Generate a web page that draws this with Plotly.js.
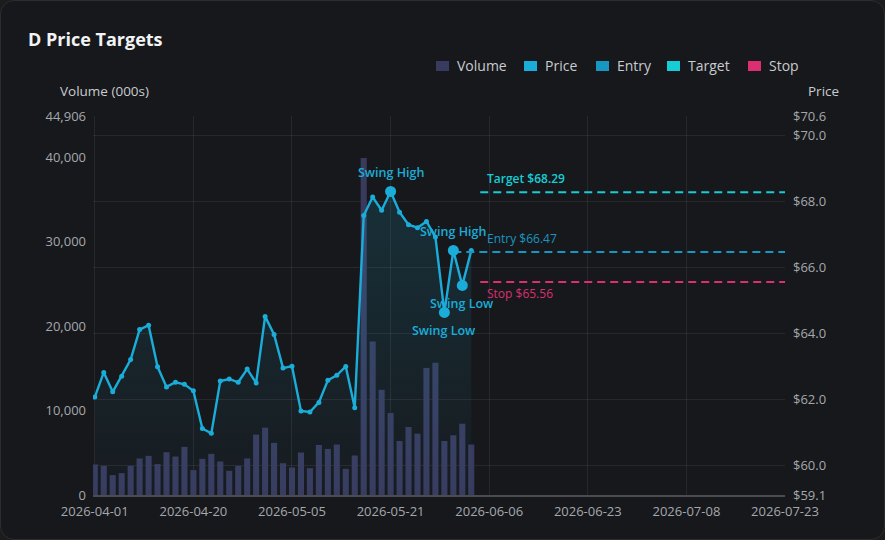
<!DOCTYPE html>
<html>
<head>
<meta charset="utf-8">
<script src="https://cdn.plot.ly/plotly-3.0.1.min.js"></script>
<style>
  html, body { margin: 0; padding: 0; background: #1c1c1d; }
  #wrap { position: relative; width: 885px; height: 540px; }
  #card { position: absolute; left: 0; top: 0; width: 883px; height: 538px; border: 1px solid #2c2d31; border-radius: 14px; background: #17181b; }
  #chart { position: absolute; left: 0; top: 0; width: 885px; height: 540px; }
</style>
</head>
<body>
<div id="wrap"><div id="card"></div><div id="chart"></div></div>
<script>
// ---------------- DATA ----------------
const dates = [
  '2026-04-01','2026-04-02','2026-04-06','2026-04-07','2026-04-08','2026-04-09','2026-04-10','2026-04-13','2026-04-14','2026-04-15',
  '2026-04-16','2026-04-20','2026-04-21','2026-04-22','2026-04-23','2026-04-24','2026-04-27','2026-04-28','2026-04-29','2026-04-30',
  '2026-05-01','2026-05-04','2026-05-05','2026-05-06','2026-05-07','2026-05-08','2026-05-11','2026-05-12','2026-05-13','2026-05-14',
  '2026-05-15','2026-05-18','2026-05-19','2026-05-21','2026-05-22','2026-05-26','2026-05-27','2026-05-28','2026-05-29','2026-06-01',
  '2026-06-02','2026-06-03','2026-06-04',
  '2026-06-05','2026-06-06','2026-06-08','2026-06-09','2026-06-11','2026-06-12','2026-06-14','2026-06-15','2026-06-17','2026-06-18',
  '2026-06-20','2026-06-21','2026-06-23','2026-06-24','2026-06-25','2026-06-27','2026-06-28','2026-06-30','2026-07-01','2026-07-02',
  '2026-07-04','2026-07-05','2026-07-07','2026-07-08','2026-07-09','2026-07-11','2026-07-12','2026-07-14','2026-07-15','2026-07-16',
  '2026-07-18','2026-07-19','2026-07-20','2026-07-22','2026-07-23'
];
const histDates = dates.slice(0, 43);

const volume = [3620,3460,2360,2590,3460,4330,4640,3660,5070,4560,
  5700,2950,4280,4870,3970,2870,3460,4330,7160,7980,
  6170,3770,3260,5030,3180,5930,5460,5980,3100,4680,
  39916,18200,12460,9710,6400,8060,7270,15060,15680,6400,
  7080,8450,5980];

const price = [62.07,62.82,62.23,62.70,63.21,64.12,64.25,62.99,62.38,62.52,
  62.46,62.26,61.12,60.97,62.56,62.62,62.52,62.92,62.50,64.52,
  63.97,62.95,63.01,61.65,61.62,61.91,62.58,62.73,63.00,61.75,
  67.58,68.14,67.74,68.31,67.68,67.30,67.21,67.40,66.93,64.64,
  66.52,65.46,66.52];

const swingHighDates = ['2026-05-21','2026-06-02'];
const swingLowDates = ['2026-06-01','2026-06-03'];

const entryPrice = 66.47, targetPrice = 68.29, stopPrice = 65.56;
const entryFrom = '2026-06-02', levelFrom = '2026-06-05', levelTo = '2026-07-23';

const xTickLabels = ['2026-04-01','2026-04-20','2026-05-05','2026-05-21','2026-06-06','2026-06-23','2026-07-08','2026-07-23'];
const volTicks = [0,10000,20000,30000,40000,44906];
const priceTicks = [59.1,60,62,64,66,68,70,70.6];
const legendNames = ['Volume','Price','Entry','Target','Stop'];

// ---------------- STYLE ----------------
const C = {
  vol: '#393b5e', price: '#1badd9', entry: '#1796c2', target: '#16cdd6', stop: '#db2f72',
  tick: '#a4a8ae', grid: 'rgba(255,255,255,0.07)', text: '#c8cbd0'
};
const FONT = 'Open Sans, Noto Sans, sans-serif';
const L = 93, R = 785, T = 116, B = 495;
const W = R - L, H = B - T;
const px = v => (v - L) / W;
const py = v => (B - v) / H;

const idx = d => dates.indexOf(d);
const priceAt = d => price[histDates.indexOf(d)];
const span = (from, to) => dates.slice(idx(from), idx(to) + 1);

const traces = [];
traces.push({
  type: 'bar', x: histDates, y: volume, yaxis: 'y', xaxis: 'x',
  marker: { color: C.vol, line: { width: 0 } }, hoverinfo: 'skip', showlegend: false
});
traces.push({
  type: 'scatter', mode: 'lines+markers', x: histDates, y: price, yaxis: 'y2',
  line: { color: C.price, width: 2.4 }, marker: { color: C.price, size: 5 },
  fill: 'tozeroy',
  fillgradient: { type: 'vertical', start: 59.1, stop: 68.5,
    colorscale: [[0, 'rgba(27,173,217,0.02)'], [1, 'rgba(27,173,217,0.16)']] },
  showlegend: false, hoverinfo: 'skip'
});
const levels = [
  { v: entryPrice, from: entryFrom, c: C.entry },
  { v: targetPrice, from: levelFrom, c: C.target },
  { v: stopPrice, from: levelFrom, c: C.stop }
];
levels.forEach(l => {
  const xs = span(l.from, levelTo);
  traces.push({
    type: 'scatter', mode: 'lines', x: xs, y: xs.map(() => l.v), yaxis: 'y2',
    line: { color: l.c, width: 2, dash: '8px,5px' }, showlegend: false, hoverinfo: 'skip'
  });
});
const swings = swingHighDates.concat(swingLowDates);
traces.push({
  type: 'scatter', mode: 'markers', x: swings, y: swings.map(priceAt), yaxis: 'y2',
  marker: { color: C.price, size: 11 }, showlegend: false, hoverinfo: 'skip'
});

const annotations = [];
swingHighDates.forEach(d => annotations.push({
  x: d, y: priceAt(d), xref: 'x', yref: 'y2', text: 'Swing High', showarrow: false,
  yshift: 19, font: { family: FONT, size: 12.5, color: C.price, weight: 600 }
}));
swingLowDates.forEach(d => annotations.push({
  x: d, y: priceAt(d), xref: 'x', yref: 'y2', text: 'Swing Low', showarrow: false,
  yshift: -18, font: { family: FONT, size: 12.5, color: C.price, weight: 600 }
}));
annotations.push({ x: levelFrom, y: targetPrice, xref: 'x', yref: 'y2', text: 'Target $' + targetPrice.toFixed(2),
  showarrow: false, xanchor: 'left', xshift: 5, yshift: 14, font: { family: FONT, size: 12, color: C.target, weight: 600 } });
annotations.push({ x: levelFrom, y: entryPrice, xref: 'x', yref: 'y2', text: 'Entry $' + entryPrice.toFixed(2),
  showarrow: false, xanchor: 'left', xshift: 5, yshift: 14, font: { family: FONT, size: 12, color: C.entry } });
annotations.push({ x: levelFrom, y: stopPrice, xref: 'x', yref: 'y2', text: 'Stop $' + stopPrice.toFixed(2),
  showarrow: false, xanchor: 'left', xshift: 5, yshift: -11, font: { family: FONT, size: 12, color: C.stop } });
// axis titles
annotations.push({ x: px(104), y: py(91), xref: 'paper', yref: 'paper', text: 'Volume (000s)', showarrow: false,
  xanchor: 'center', yanchor: 'middle', font: { family: FONT, size: 13.5, color: C.text } });
annotations.push({ x: px(824), y: py(91), xref: 'paper', yref: 'paper', text: 'Price', showarrow: false,
  xanchor: 'center', yanchor: 'middle', font: { family: FONT, size: 13.5, color: C.text } });

// legend (manual)
const legendColors = [C.vol, C.price, C.entry, C.target, C.stop];
const legendX = [436, 524, 596, 667, 748];
const shapes = [];
legendNames.forEach((n, i) => {
  shapes.push({ type: 'rect', xref: 'paper', yref: 'paper', x0: px(legendX[i]), x1: px(legendX[i] + 13),
    y0: py(71), y1: py(61), fillcolor: legendColors[i], line: { width: 0 } });
  annotations.push({ x: px(legendX[i] + 19), y: py(65.5), xref: 'paper', yref: 'paper', text: n, showarrow: false,
    xanchor: 'left', yanchor: 'middle', font: { family: FONT, size: 14, color: C.text } });
});

const layout = {
  width: 885, height: 540,
  paper_bgcolor: 'rgba(0,0,0,0)', plot_bgcolor: 'rgba(0,0,0,0)',
  margin: { l: L, r: 885 - R, t: T, b: 540 - B, pad: 0 },
  font: { family: FONT, color: C.tick, size: 13 },
  title: { text: '<b>D Price Targets</b>', xref: 'container', yref: 'container', x: 28 / 885, xanchor: 'left',
    y: 1 - 40 / 540, yanchor: 'middle', font: { family: FONT, size: 18, color: '#f2f3f5' } },
  showlegend: false,
  bargap: 0.32,
  xaxis: {
    type: 'category', categoryorder: 'array', categoryarray: dates,
    range: [-0.2, dates.length - 1], tickvals: xTickLabels, ticktext: xTickLabels,
    showgrid: true, gridcolor: C.grid, gridwidth: 1,
    showline: true, linecolor: '#4a4c52', linewidth: 1.5, ticks: '', ticklabelstandoff: 4,
    tickfont: { family: FONT, size: 13, color: C.tick }, zeroline: false, fixedrange: true
  },
  yaxis: {
    range: [0, 44906], tickvals: volTicks, ticktext: volTicks.map(v => v.toLocaleString('en-US')),
    showgrid: false, zeroline: false, showline: false, ticks: '', ticklabelstandoff: 6,
    tickfont: { family: FONT, size: 13, color: C.tick }, fixedrange: true
  },
  yaxis2: {
    overlaying: 'y', side: 'right', range: [59.1, 70.6], tickvals: priceTicks,
    ticktext: priceTicks.map(v => '$' + v.toFixed(1)),
    showgrid: true, gridcolor: C.grid, zeroline: false, showline: false, ticks: '', ticklabelstandoff: 7,
    tickfont: { family: FONT, size: 13, color: C.tick }, fixedrange: true
  },
  shapes: shapes,
  annotations: annotations
};

Plotly.newPlot('chart', traces, layout, { displayModeBar: false, staticPlot: true });
</script>
</body>
</html>
